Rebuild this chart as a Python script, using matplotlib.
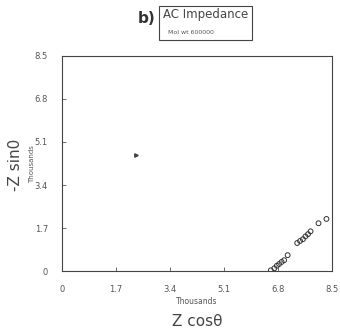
import matplotlib
matplotlib.use("Agg")
import matplotlib.pyplot as plt
from matplotlib.patches import Rectangle

z_real = [6.57, 6.68, 6.76, 6.83, 6.91, 6.99, 7.10, 7.40, 7.49, 7.58, 7.66, 7.74, 7.82, 8.07, 8.32]
z_imag = [0.03, 0.11, 0.21, 0.28, 0.36, 0.43, 0.63, 1.11, 1.19, 1.26, 1.37, 1.46, 1.57, 1.89, 2.06]
stray_x = [2.33]
stray_y = [4.6]
ticks = [0, 1.7, 3.4, 5.1, 6.8, 8.5]
tick_labels = ["0", "1.7", "3.4", "5.1", "6.8", "8.5"]

fig = plt.figure(figsize=(3.4, 3.29), dpi=100)
ax = fig.add_axes([0.182, 0.176, 0.795, 0.654])
ax.scatter(z_real, z_imag, s=12, facecolors="none", edgecolors="#333333", linewidths=0.7)
ax.plot(stray_x, stray_y, marker=">", ms=2.5, color="#444444", linestyle="none")
ax.set_xlim(0, 8.5)
ax.set_ylim(0, 8.5)
ax.set_xticks(ticks)
ax.set_yticks(ticks)
ax.set_xticklabels(tick_labels, fontsize=6, color="#555555")
ax.set_yticklabels(tick_labels, fontsize=6, color="#555555")
ax.tick_params(direction="in", length=3, width=0.6, color="#555555", pad=10)
for s in ax.spines.values():
    s.set_linewidth(0.8)
    s.set_color("#444444")

fig.text(0.045, 0.5, "-Z sin0", rotation=90, fontsize=11, color="#444444", va="center", ha="center")
fig.text(0.095, 0.5, "Thousands", rotation=90, fontsize=5, color="#555555", va="center", ha="center")
fig.text(0.58, 0.083, "Thousands", fontsize=5.5, color="#555555", ha="center", va="center")
fig.text(0.58, 0.022, "Z cosθ", fontsize=11, color="#444444", ha="center", va="center")

fig.text(0.43, 0.945, "b)", fontsize=11, fontweight="bold", color="#333333", ha="center", va="center")
fig.patches.append(Rectangle((0.468, 0.878), 0.272, 0.105, transform=fig.transFigure,
                             fill=False, edgecolor="#444444", linewidth=0.8))
fig.text(0.478, 0.955, "AC Impedance", fontsize=8.5, color="#444444", ha="left", va="center")
fig.text(0.495, 0.9, "Mol wt 600000", fontsize=4.5, color="#555555", ha="left", va="center")

fig.savefig("out.png", dpi=100)
